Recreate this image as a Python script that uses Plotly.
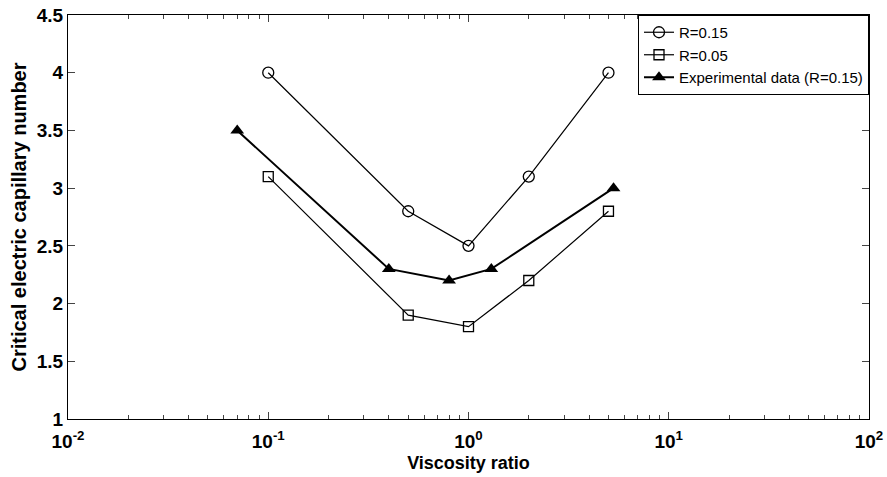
import plotly.graph_objects as go

# Data
x_r015 = [0.1, 0.5, 1, 2, 5]
y_r015 = [4.0, 2.8, 2.5, 3.1, 4.0]
x_r005 = [0.1, 0.5, 1, 2, 5]
y_r005 = [3.1, 1.9, 1.8, 2.2, 2.8]
x_exp = [0.07, 0.4, 0.8, 1.3, 5.3]
y_exp = [3.5, 2.3, 2.2, 2.3, 3.0]

x_tickvals = [0.01, 0.1, 1, 10, 100]
x_ticktext = ["<b>10<sup>-2</sup></b>", "<b>10<sup>-1</sup></b>", "<b>10<sup>0</sup></b>",
              "<b>10<sup>1</sup></b>", "<b>10<sup>2</sup></b>"]
x_minor_tickvals = [m * d for d in [0.01, 0.1, 1, 10] for m in range(2, 10)]
y_tickvals = [1, 1.5, 2, 2.5, 3, 3.5, 4, 4.5]
y_ticktext = ["<b>1</b>", "<b>1.5</b>", "<b>2</b>", "<b>2.5</b>", "<b>3</b>", "<b>3.5</b>", "<b>4</b>", "<b>4.5</b>"]

FONT = "Arial, Liberation Sans, Helvetica"

fig = go.Figure()
fig.add_trace(go.Scatter(x=x_r015, y=y_r015, mode="lines+markers", name="R=0.15",
                         line=dict(color="black", width=1.2),
                         marker=dict(symbol="circle-open", size=11, color="black", line=dict(width=1.3))))
fig.add_trace(go.Scatter(x=x_r005, y=y_r005, mode="lines+markers", name="R=0.05",
                         line=dict(color="black", width=1.2),
                         marker=dict(symbol="square-open", size=10, color="black", line=dict(width=1.3))))
fig.add_trace(go.Scatter(x=x_exp, y=y_exp, mode="lines+markers", name="Experimental data (R=0.15)",
                         line=dict(color="black", width=2),
                         marker=dict(symbol="triangle-up", size=12, color="black")))
# invisible trace on the overlay axis carrying the minor ticks
fig.add_trace(go.Scatter(x=[0.01, 100], y=[1, 1], xaxis="x2", mode="markers",
                         marker=dict(opacity=0), showlegend=False, hoverinfo="skip"))

axis_common = dict(showline=True, linecolor="black", linewidth=1, mirror="ticks",
                   ticks="inside", tickcolor="#444", tickwidth=1, ticklen=7,
                   showgrid=False, zeroline=False, automargin=False,
                   tickfont=dict(family=FONT, size=19, color="black"))

fig.update_layout(
    xaxis=dict(type="log", range=[-2, 2], tickvals=x_tickvals, ticktext=x_ticktext,
               ticklabelstandoff=5,
               title=dict(text="<b>Viscosity ratio</b>", standoff=5,
                          font=dict(family=FONT, size=18, color="black")),
               **axis_common),
    xaxis2=dict(type="log", range=[-2, 2], overlaying="x", anchor="y", side="bottom",
                tickmode="array", tickvals=x_minor_tickvals, showticklabels=False,
                ticks="inside", ticklen=4, tickwidth=1, tickcolor="#444", mirror="ticks",
                showline=True, linecolor="black", linewidth=1,
                showgrid=False, zeroline=False, automargin=False),
    yaxis=dict(range=[1, 4.5], tickvals=y_tickvals, ticktext=y_ticktext,
               title=dict(text="<b>Critical electric capillary number</b>", standoff=4,
                          font=dict(family=FONT, size=20, color="black")),
               **axis_common),
    width=887, height=477,
    margin=dict(l=68, r=18, t=15, b=58),
    paper_bgcolor="white", plot_bgcolor="white",
    showlegend=True,
    legend=dict(x=1, y=1, xanchor="right", yanchor="top", bgcolor="white",
                bordercolor="black", borderwidth=1,
                font=dict(family=FONT, size=15, color="black"),
                tracegroupgap=0, itemwidth=30),
)

fig.write_html("out.html", config={"displayModeBar": False},
               post_script="document.body.style.margin='0';document.body.style.overflow='hidden';")
